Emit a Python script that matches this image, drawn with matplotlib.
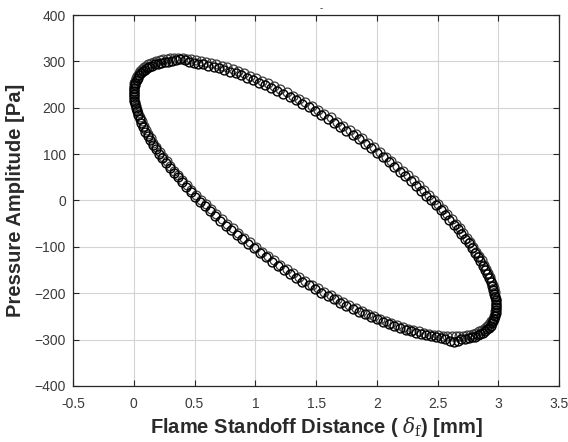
import matplotlib
matplotlib.use("Agg")
import matplotlib.pyplot as plt

# flame standoff distance [mm] and pressure amplitude [Pa]
# first recorded cycle
distance_a = [
    2.980, 2.979, 2.976, 2.972, 2.966, 2.957, 2.947, 2.936, 2.922, 2.907,
    2.890, 2.872, 2.851, 2.829, 2.806, 2.780, 2.754, 2.725, 2.695, 2.664,
    2.631, 2.597, 2.562, 2.525, 2.487, 2.448, 2.407, 2.366, 2.323, 2.280,
    2.235, 2.190, 2.143, 2.096, 2.048, 2.000, 1.950, 1.901, 1.850, 1.800,
    1.749, 1.697, 1.646, 1.594, 1.542, 1.490, 1.438, 1.386, 1.334, 1.283,
    1.231, 1.180, 1.130, 1.079, 1.030, 0.980, 0.932, 0.884, 0.837, 0.790,
    0.745, 0.700, 0.657, 0.614, 0.573, 0.532, 0.493, 0.455, 0.418, 0.383,
    0.349, 0.316, 0.285, 0.255, 0.226, 0.200, 0.174, 0.151, 0.129, 0.108,
    0.090, 0.073, 0.058, 0.044, 0.033, 0.023, 0.014, 0.008, 0.004, 0.001,
    0.000, 0.002, 0.005, 0.010, 0.016, 0.025, 0.036, 0.048, 0.062, 0.078,
    0.095, 0.114, 0.135, 0.158, 0.182, 0.208, 0.235, 0.264, 0.295, 0.327,
    0.360, 0.395, 0.431, 0.468, 0.506, 0.546, 0.586, 0.628, 0.670, 0.713,
    0.757, 0.802, 0.848, 0.894, 0.941, 0.989, 1.037, 1.086, 1.135, 1.185,
    1.235, 1.286, 1.337, 1.388, 1.440, 1.491, 1.543, 1.595, 1.647, 1.698,
    1.750, 1.801, 1.851, 1.902, 1.951, 2.001, 2.049, 2.097, 2.144, 2.191,
    2.236, 2.281, 2.324, 2.367, 2.408, 2.449, 2.488, 2.526, 2.563, 2.598,
    2.632, 2.665, 2.696, 2.726, 2.755, 2.781, 2.807, 2.830, 2.852, 2.873,
    2.891, 2.908, 2.923, 2.937, 2.948, 2.958, 2.967, 2.973, 2.977, 2.979,
]
pressure_a = [
    -229.8, -223.0, -215.7, -208.4, -200.8, -192.8, -184.7, -176.4, -167.8, -159.0,
    -150.0, -140.9, -131.5, -122.0, -112.4, -102.6, -92.7, -82.7, -72.6, -62.4,
    -52.1, -41.8, -31.4, -20.9, -10.5, 0.0, 10.4, 20.9, 31.3, 41.7,
    52.1, 62.3, 72.6, 82.6, 92.7, 102.6, 112.4, 122.0, 131.5, 140.8,
    150.0, 158.9, 167.7, 176.3, 184.7, 192.8, 200.7, 208.3, 215.7, 222.9,
    229.8, 236.4, 242.7, 248.6, 254.4, 259.8, 264.9, 269.6, 274.0, 278.1,
    281.9, 285.3, 288.3, 291.1, 293.4, 295.4, 297.1, 299.0, 302.5, 305.8,
    303.9, 301.0, 299.2, 298.3, 297.1, 295.4, 293.4, 291.0, 288.3, 285.3,
    281.8, 278.2, 274.0, 269.6, 264.9, 259.8, 254.4, 248.6, 242.7, 236.4,
    229.8, 222.5, 215.0, 207.6, 199.8, 191.9, 183.6, 175.2, 166.5, 157.6,
    148.5, 139.2, 129.8, 120.2, 110.4, 100.5, 90.5, 80.4, 70.2, 59.9,
    49.6, 39.2, 28.8, 18.3, 7.9, -2.5, -12.9, -23.3, -33.6, -43.9,
    -54.1, -64.2, -74.2, -84.1, -93.9, -103.6, -113.2, -122.6, -131.8, -140.9,
    -149.8, -158.5, -167.0, -175.3, -183.4, -191.3, -199.0, -206.4, -213.6, -220.6,
    -227.3, -233.7, -239.9, -245.8, -251.4, -256.7, -261.7, -266.4, -270.8, -274.9,
    -278.6, -282.0, -285.1, -287.9, -290.3, -292.4, -294.2, -296.5, -299.8, -303.6,
    -305.2, -302.4, -299.5, -298.6, -297.3, -295.6, -293.6, -291.2, -288.5, -285.5,
    -282.1, -278.4, -274.3, -269.9, -265.2, -260.1, -254.7, -248.9, -242.9, -236.6,
]
# second recorded cycle (lighter circles, sitting a little higher)
distance_b = [
    2.980, 2.978, 2.974, 2.969, 2.962, 2.952, 2.942, 2.929, 2.915, 2.899,
    2.881, 2.862, 2.840, 2.818, 2.793, 2.767, 2.740, 2.710, 2.680, 2.648,
    2.614, 2.580, 2.544, 2.506, 2.468, 2.428, 2.387, 2.345, 2.302, 2.258,
    2.213, 2.167, 2.120, 2.072, 2.024, 1.975, 1.926, 1.876, 1.825, 1.775,
    1.723, 1.672, 1.620, 1.568, 1.516, 1.464, 1.412, 1.360, 1.309, 1.257,
    1.206, 1.155, 1.105, 1.055, 1.005, 0.956, 0.908, 0.861, 0.814, 0.768,
    0.723, 0.679, 0.636, 0.594, 0.553, 0.513, 0.474, 0.437, 0.401, 0.366,
    0.333, 0.301, 0.270, 0.241, 0.213, 0.187, 0.163, 0.140, 0.119, 0.099,
    0.082, 0.066, 0.051, 0.039, 0.028, 0.019, 0.011, 0.006, 0.003, 0.000,
    0.000, 0.002, 0.006, 0.011, 0.018, 0.028, 0.038, 0.051, 0.065, 0.081,
    0.099, 0.118, 0.140, 0.162, 0.187, 0.213, 0.240, 0.270, 0.300, 0.332,
    0.366, 0.400, 0.436, 0.474, 0.512, 0.552, 0.593, 0.635, 0.678, 0.722,
    0.767, 0.813, 0.860, 0.908, 0.956, 1.005, 1.054, 1.104, 1.155, 1.205,
    1.257, 1.308, 1.360, 1.412, 1.464, 1.516, 1.568, 1.620, 1.671, 1.723,
    1.774, 1.825, 1.875, 1.925, 1.975, 2.024, 2.072, 2.119, 2.166, 2.212,
    2.257, 2.301, 2.344, 2.386, 2.427, 2.467, 2.506, 2.543, 2.579, 2.614,
    2.647, 2.679, 2.710, 2.739, 2.767, 2.793, 2.817, 2.840, 2.861, 2.881,
    2.898, 2.914, 2.929, 2.941, 2.952, 2.961, 2.969, 2.974, 2.977, 2.980,
]
pressure_b = [
    -219.4, -212.4, -205.1, -197.6, -189.8, -181.8, -173.6, -165.1, -156.4, -147.5,
    -138.5, -129.2, -119.8, -110.2, -100.5, -90.7, -80.7, -70.7, -60.5, -50.3,
    -40.0, -29.6, -19.2, -8.7, 1.7, 12.2, 22.7, 33.1, 43.5, 53.9,
    64.2, 74.5, 84.6, 94.7, 104.7, 114.5, 124.2, 133.8, 143.2, 152.4,
    161.5, 170.3, 179.0, 187.5, 195.8, 203.8, 211.5, 219.0, 226.3, 233.4,
    240.1, 246.6, 252.7, 258.5, 264.1, 269.4, 274.3, 278.8, 283.1, 287.0,
    290.6, 293.8, 296.7, 299.3, 301.4, 303.3, 304.7, 305.8, 306.5, 306.9,
    306.9, 306.5, 305.8, 304.7, 303.3, 301.4, 299.2, 296.7, 293.8, 290.6,
    287.0, 283.1, 278.8, 274.3, 269.4, 264.1, 258.5, 252.7, 246.6, 240.1,
    233.4, 226.4, 219.1, 211.6, 203.8, 195.8, 187.6, 179.1, 170.4, 161.5,
    152.5, 143.2, 133.8, 124.2, 114.5, 104.7, 94.7, 84.7, 74.5, 64.3,
    54.0, 43.6, 33.2, 22.7, 12.3, 1.8, -8.7, -19.1, -29.5, -39.9,
    -50.2, -60.5, -70.6, -80.7, -90.7, -100.5, -110.2, -119.8, -129.2, -138.4,
    -147.5, -156.3, -165.0, -173.5, -181.8, -189.8, -197.5, -205.0, -212.3, -219.4,
    -226.1, -232.6, -238.7, -244.5, -250.1, -255.4, -260.3, -264.8, -269.1, -273.0,
    -276.6, -279.8, -282.7, -285.3, -287.4, -289.3, -290.7, -291.8, -292.5, -292.9,
    -292.9, -292.5, -291.8, -290.7, -289.3, -287.4, -285.2, -282.7, -279.8, -276.6,
    -273.0, -269.1, -264.8, -260.3, -255.4, -250.1, -244.5, -238.7, -232.6, -226.1,
]

xticks = [-0.5, 0, 0.5, 1, 1.5, 2, 2.5, 3, 3.5]
xticklabels = ["-0.5", "0", "0.5", "1", "1.5", "2", "2.5", "3", "3.5"]
yticks = [-400, -300, -200, -100, 0, 100, 200, 300, 400]

plt.rcParams["font.family"] = ["Liberation Sans", "DejaVu Sans"]
plt.rcParams["mathtext.fontset"] = "dejavuserif"

fig = plt.figure(figsize=(5.68, 4.42), dpi=100)
ax = fig.add_axes([0.1285, 0.127, 0.856, 0.839])

ax.plot(distance_b, pressure_b, linestyle="none", marker="o", markersize=6.4,
        markerfacecolor="none", markeredgecolor="#3a3a3a", markeredgewidth=0.9)
ax.plot(distance_a, pressure_a, linestyle="none", marker="o", markersize=6.4,
        markerfacecolor="none", markeredgecolor="black", markeredgewidth=1.0)

ax.set_xlim(-0.5, 3.5)
ax.set_ylim(-400, 400)
ax.set_xticks(xticks)
ax.set_xticklabels(xticklabels)
ax.set_yticks(yticks)

ax.grid(True, color="#d4d4d4", linewidth=0.8)
ax.set_axisbelow(True)
ax.tick_params(direction="in", top=True, right=True, length=4, width=0.8,
               labelsize=10, colors="#262626", labelcolor="#3a3a3a")
ax.tick_params(axis="x", pad=8)
ax.tick_params(axis="y", pad=5)
for side in ax.spines.values():
    side.set_color("#262626")
    side.set_linewidth(0.9)

ax.set_xlabel(r"Flame Standoff Distance ( $\delta_\mathrm{f}$) [mm]", fontsize=14.5,
              fontweight="bold", color="#2a2a2a", labelpad=3)
ax.set_ylabel("Pressure Amplitude [Pa]", fontsize=14.5, fontweight="bold",
              color="#2a2a2a", labelpad=7)

fig.text(0.565, 0.982, "-", fontsize=7, color="#333333", ha="center", va="center")

fig.savefig("out.png", dpi=100)
